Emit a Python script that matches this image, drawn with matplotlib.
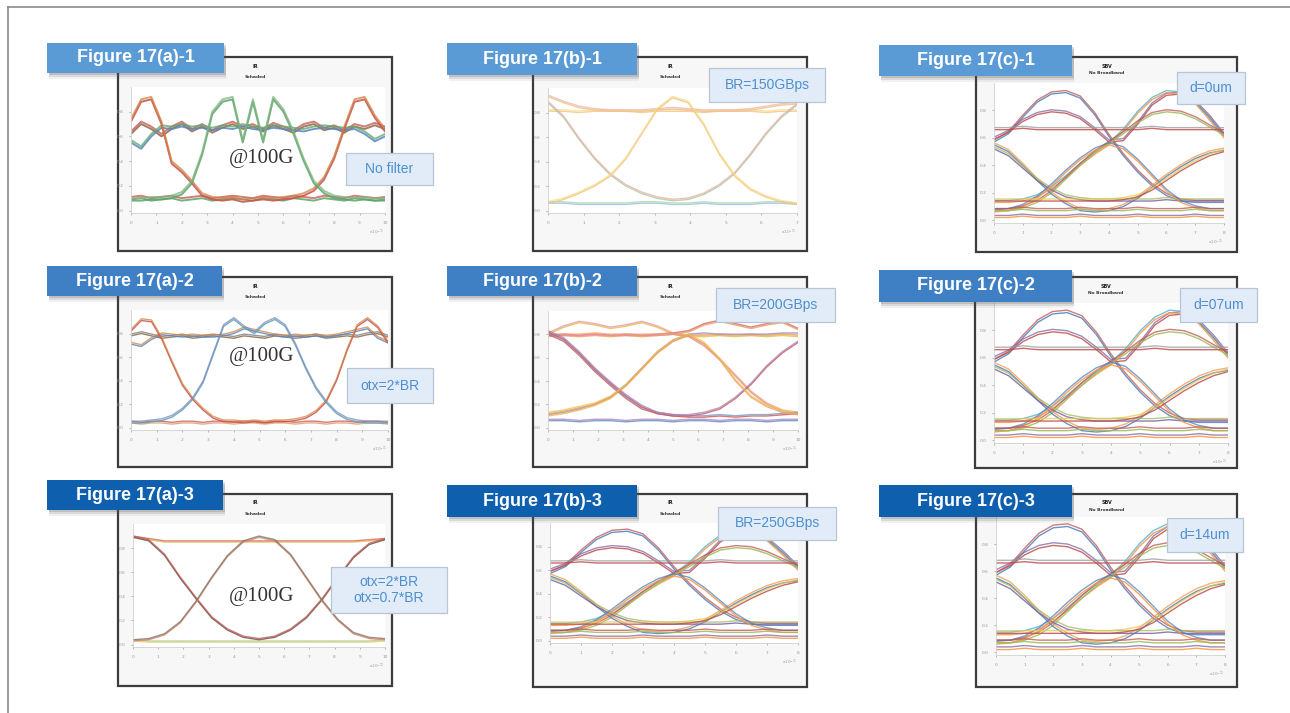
import numpy as np
import matplotlib
matplotlib.use("Agg")
import matplotlib.pyplot as plt
from matplotlib.patches import Rectangle

W, H = 1290, 713

# sample times of the eye traces
t26 = np.linspace(0, 10, 26)
t17a = np.linspace(0, 10, 17)
t17b1 = np.linspace(0, 7, 17)
t17p = np.linspace(0, 8, 17)

# ---- 17(a)-1 : no filter, 100G ----
a1_fall_rise = [0.72, 0.88, 0.90, 0.70, 0.38, 0.31, 0.22, 0.12, 0.09, 0.08, 0.09, 0.07, 0.08,
                0.09, 0.08, 0.09, 0.10, 0.12, 0.16, 0.25, 0.42, 0.66, 0.88, 0.90, 0.75, 0.64]
a1_rise_fall = [0.08, 0.08, 0.09, 0.09, 0.10, 0.13, 0.22, 0.45, 0.78, 0.88, 0.90, 0.55, 0.88,
                0.55, 0.90, 0.80, 0.62, 0.40, 0.22, 0.14, 0.10, 0.09, 0.08, 0.09, 0.08, 0.08]
a1_high = [0.62, 0.70, 0.66, 0.60, 0.66, 0.70, 0.64, 0.68, 0.63, 0.67, 0.70, 0.66, 0.68,
           0.64, 0.69, 0.66, 0.63, 0.68, 0.70, 0.65, 0.67, 0.63, 0.68, 0.66, 0.69, 0.66]
a1_high2 = [0.55, 0.50, 0.60, 0.67, 0.66, 0.68, 0.66, 0.67, 0.65, 0.67, 0.66, 0.68, 0.66,
            0.65, 0.67, 0.66, 0.65, 0.64, 0.66, 0.67, 0.66, 0.65, 0.66, 0.62, 0.56, 0.60]
a1_low = [0.09, 0.10, 0.08, 0.09, 0.10, 0.08, 0.09, 0.10, 0.08, 0.09, 0.10, 0.09, 0.08,
          0.10, 0.09, 0.08, 0.10, 0.09, 0.08, 0.10, 0.09, 0.08, 0.10, 0.09, 0.08, 0.09]

# ---- 17(a)-2 : otx = 2*BR ----
a2_fall_rise = [0.82, 0.91, 0.90, 0.75, 0.55, 0.36, 0.24, 0.15, 0.08, 0.05, 0.05, 0.04, 0.05,
                0.04, 0.05, 0.05, 0.06, 0.08, 0.13, 0.22, 0.40, 0.65, 0.86, 0.92, 0.85, 0.72]
a2_rise_fall = [0.04, 0.04, 0.05, 0.06, 0.09, 0.15, 0.24, 0.38, 0.62, 0.86, 0.92, 0.85, 0.80,
                0.88, 0.92, 0.86, 0.70, 0.50, 0.33, 0.21, 0.12, 0.07, 0.05, 0.04, 0.04, 0.04]
a2_high = [0.78, 0.80, 0.78, 0.76, 0.77, 0.78, 0.76, 0.77, 0.78, 0.77, 0.76, 0.78, 0.77,
           0.76, 0.78, 0.77, 0.76, 0.77, 0.78, 0.76, 0.77, 0.78, 0.77, 0.79, 0.80, 0.77]
a2_high2 = [0.71, 0.69, 0.75, 0.79, 0.78, 0.77, 0.78, 0.77, 0.77, 0.78, 0.80, 0.84, 0.82,
            0.80, 0.78, 0.77, 0.78, 0.77, 0.78, 0.77, 0.78, 0.80, 0.82, 0.84, 0.76, 0.72]
a2_low = [0.04, 0.03, 0.04, 0.04, 0.03, 0.04, 0.04, 0.03, 0.04, 0.04, 0.03, 0.04, 0.04,
          0.03, 0.04, 0.04, 0.03, 0.04, 0.04, 0.03, 0.04, 0.04, 0.03, 0.04, 0.04, 0.03]

# ---- 17(a)-3 : otx = 2*BR, orx = 0.7*BR ----
a3_u = [0.89, 0.86, 0.74, 0.55, 0.38, 0.22, 0.12, 0.06, 0.04, 0.06, 0.12, 0.22, 0.37, 0.55, 0.72, 0.83, 0.87]
a3_bell = [0.03, 0.04, 0.08, 0.18, 0.35, 0.55, 0.73, 0.85, 0.89, 0.86, 0.74, 0.55, 0.36, 0.20, 0.09, 0.05, 0.04]
a3_high = [0.89, 0.87, 0.85, 0.85, 0.85, 0.85, 0.85, 0.85, 0.85, 0.85, 0.85, 0.85, 0.85, 0.85, 0.85, 0.86, 0.87]
a3_low = [0.03, 0.02, 0.02, 0.02, 0.02, 0.02, 0.02, 0.02, 0.02, 0.02, 0.02, 0.02, 0.02, 0.02, 0.02, 0.02, 0.03]

# ---- 17(b)-1 : BR = 150GBps ----
b1_u = [0.88, 0.76, 0.58, 0.42, 0.29, 0.20, 0.14, 0.10, 0.08, 0.09, 0.13, 0.20, 0.30, 0.45, 0.62, 0.76, 0.86]
b1_bell = [0.06, 0.09, 0.14, 0.20, 0.28, 0.42, 0.62, 0.82, 0.92, 0.88, 0.70, 0.46, 0.28, 0.17, 0.11, 0.07, 0.05]
b1_top = [0.93, 0.88, 0.84, 0.82, 0.81, 0.81, 0.81, 0.82, 0.83, 0.82, 0.81, 0.81, 0.81, 0.82, 0.84, 0.86, 0.87]
b1_high = [0.81, 0.81, 0.80, 0.81, 0.81, 0.81, 0.80, 0.81, 0.81, 0.81, 0.80, 0.81, 0.81, 0.81, 0.80, 0.81, 0.81]
b1_low = [0.06, 0.06, 0.05, 0.05, 0.05, 0.05, 0.06, 0.06, 0.05, 0.05, 0.06, 0.05, 0.05, 0.05, 0.06, 0.06, 0.05]

# ---- 17(b)-2 : BR = 200GBps ----
b2_fall = [0.82, 0.76, 0.64, 0.50, 0.38, 0.27, 0.18, 0.12, 0.10, 0.10, 0.12, 0.16, 0.25, 0.37, 0.52, 0.64, 0.73]
b2_rise = [0.12, 0.14, 0.17, 0.20, 0.26, 0.36, 0.50, 0.64, 0.74, 0.79, 0.72, 0.58, 0.40, 0.26, 0.18, 0.13, 0.11]
b2_bump_l = [0.80, 0.86, 0.90, 0.88, 0.85, 0.87, 0.90, 0.86, 0.80, 0.78, 0.78, 0.79, 0.78, 0.79, 0.78, 0.79, 0.78]
b2_bump_r = [0.78, 0.79, 0.78, 0.79, 0.78, 0.79, 0.78, 0.79, 0.80, 0.82, 0.88, 0.91, 0.88, 0.85, 0.88, 0.90, 0.84]
b2_rise_hold = [0.10, 0.12, 0.15, 0.19, 0.25, 0.36, 0.50, 0.64, 0.74, 0.79, 0.80, 0.79, 0.79, 0.79, 0.79, 0.80, 0.80]
b2_hold_fall = [0.79, 0.79, 0.79, 0.80, 0.79, 0.79, 0.79, 0.79, 0.80, 0.78, 0.70, 0.58, 0.44, 0.30, 0.20, 0.14, 0.12]
b2_fall_hold = [0.80, 0.74, 0.62, 0.48, 0.36, 0.25, 0.16, 0.12, 0.10, 0.09, 0.09, 0.10, 0.09, 0.10, 0.10, 0.11, 0.12]
b2_low = [0.06, 0.06, 0.05, 0.06, 0.06, 0.05, 0.06, 0.06, 0.05, 0.06, 0.06, 0.05, 0.06, 0.06, 0.05, 0.06, 0.06]

# ---- 17(b)-3 and 17(c)-1..3 : multi-level eye ----
pam_hi_fall = [0.57, 0.63, 0.75, 0.86, 0.92, 0.93, 0.89, 0.77, 0.61, 0.47, 0.35, 0.25, 0.18, 0.14, 0.13, 0.13, 0.13]
pam_mid_hump = [0.59, 0.64, 0.72, 0.77, 0.79, 0.78, 0.74, 0.66, 0.57, 0.58, 0.70, 0.84, 0.91, 0.92, 0.86, 0.75, 0.62]
pam_low_rise = [0.13, 0.13, 0.14, 0.17, 0.23, 0.31, 0.40, 0.48, 0.55, 0.65, 0.78, 0.88, 0.93, 0.92, 0.85, 0.73, 0.60]
pam_rise_mid = [0.07, 0.07, 0.09, 0.13, 0.20, 0.30, 0.40, 0.49, 0.56, 0.63, 0.71, 0.77, 0.79, 0.78, 0.74, 0.68, 0.62]
pam_flat = [0.66, 0.66, 0.67, 0.66, 0.66, 0.66, 0.66, 0.66, 0.66, 0.66, 0.66, 0.67, 0.66, 0.66, 0.66, 0.66, 0.66]
pam_trough = [0.55, 0.50, 0.40, 0.29, 0.19, 0.12, 0.07, 0.06, 0.07, 0.10, 0.16, 0.24, 0.32, 0.39, 0.45, 0.49, 0.51]
pam_fall_low = [0.52, 0.47, 0.38, 0.29, 0.22, 0.17, 0.15, 0.14, 0.14, 0.14, 0.14, 0.14, 0.15, 0.14, 0.14, 0.14, 0.14]
pam_cross = [0.06, 0.07, 0.10, 0.16, 0.25, 0.35, 0.44, 0.51, 0.55, 0.52, 0.43, 0.32, 0.21, 0.13, 0.09, 0.07, 0.07]
pam_low_up = [0.14, 0.14, 0.14, 0.14, 0.14, 0.14, 0.14, 0.14, 0.14, 0.15, 0.17, 0.22, 0.29, 0.36, 0.42, 0.47, 0.50]
pam_l1 = [0.07, 0.07, 0.08, 0.07, 0.07, 0.07, 0.08, 0.07, 0.07, 0.07, 0.08, 0.07, 0.07, 0.07, 0.08, 0.07, 0.07]
pam_l0 = [0.02, 0.02, 0.03, 0.02, 0.02, 0.02, 0.03, 0.02, 0.02, 0.02, 0.03, 0.02, 0.02, 0.02, 0.03, 0.02, 0.02]

pam_traces = [pam_hi_fall, pam_mid_hump, pam_low_rise, pam_rise_mid, pam_flat, pam_trough,
              pam_fall_low, pam_cross, pam_low_up, pam_l1, pam_l0]

panel_titles = ["Figure 17(a)-1", "Figure 17(b)-1", "Figure 17(c)-1",
                "Figure 17(a)-2", "Figure 17(b)-2", "Figure 17(c)-2",
                "Figure 17(a)-3", "Figure 17(b)-3", "Figure 17(c)-3"]
notes = ["No filter", "BR=150GBps", "d=0um",
         "otx=2*BR", "BR=200GBps", "d=07um",
         "otx=2*BR\notx=0.7*BR", "BR=250GBps", "d=14um"]

# colours
RED, GRN, BLU, ORG, BRN = "#c8504a", "#5aa66a", "#5b86bd", "#d08040", "#8c6a4a"
pam_cols = [("#4f81bd", "#c0504d"), ("#c0504d", "#8064a2"), ("#f79646", "#4bacc6"),
            ("#9bbb59", "#c0504d"), ("#c0504d", "#9a9a9a"), ("#4f81bd", "#f79646"),
            ("#8064a2", "#9bbb59"), ("#f79646", "#4f81bd"), ("#c0504d", "#e6c84a"),
            ("#9bbb59", "#c0504d"), ("#f79646", "#8064a2")]

panels = [
    dict(t=t26, traces=[a1_high, a1_high2, a1_low, a1_fall_rise, a1_rise_fall],
         cols=[(BRN, RED), (BLU, GRN), (GRN, RED), (RED, ORG), (GRN, "#7fb37f")], lw=1.4, dy=0.02),
    dict(t=t17b1, traces=[b1_high, b1_top, b1_low, b1_u, b1_bell],
         cols=[("#f3c890", "#f6dc8a"), ("#f3c27f", "#ebb4b4"), ("#9cc3e6", "#a8d5a8"),
               ("#a8cfa8", "#f0a8a0"), ("#f3c27f", "#f6dc8a")], lw=1.0, dy=0.012),
    dict(t=t17p, traces=pam_traces, cols=pam_cols, lw=1.0, dy=0.015),
    dict(t=t26, traces=[a2_high, a2_high2, a2_low, a2_fall_rise, a2_rise_fall],
         cols=[(BRN, "#777777"), (BLU, ORG), ("#e0a070", RED), (RED, ORG), ("#5a9fb0", "#7a8ac0")],
         lw=1.0, dy=0.015),
    dict(t=t17a, traces=[b2_bump_l, b2_bump_r, b2_rise_hold, b2_hold_fall, b2_fall_hold,
                         b2_low, b2_fall, b2_rise],
         cols=[("#e8c050", "#e890a0"), ("#f0a060", "#d06060"), ("#e8c050", "#a080c0"),
               ("#e890a0", "#f0a060"), ("#d06060", "#7090c0"), ("#7090c0", "#a080c0"),
               ("#d06060", "#a080c0"), ("#f0a060", "#e8c050")], lw=1.0, dy=0.012),
    dict(t=t17p, traces=pam_traces, cols=pam_cols, lw=1.0, dy=0.018),
    dict(t=t17a, traces=[a3_high, a3_low, a3_u, a3_bell],
         cols=[("#e8c060", "#d06050"), ("#e8d070", "#a8c890"), ("#6b5a50", "#c0504d"),
               ("#d88a6a", "#7a6a60")], lw=1.0, dy=0.01),
    dict(t=t17p, traces=pam_traces, cols=pam_cols, lw=1.0, dy=0.018),
    dict(t=t17p, traces=pam_traces, cols=pam_cols, lw=1.0, dy=0.02),
]

# layout in pixels: (left, top, right, bottom)
frames = [(118, 57, 392, 251), (533, 57, 807, 251), (976, 57, 1237, 252),
          (118, 277, 392, 467), (533, 277, 807, 467), (975, 277, 1237, 468),
          (118, 494, 392, 686), (533, 494, 807, 687), (976, 494, 1237, 687)]
axboxes = [(131, 87, 385, 213), (548, 88, 797, 213), (994, 83, 1224, 223),
           (131, 310, 388, 430), (548, 311, 798, 430), (994, 303, 1228, 443),
           (133, 524, 385, 647), (550, 523, 798, 643), (996, 517, 1225, 655)]
tags = [(47, 43, 224, 73), (447, 43, 637, 75), (879, 45, 1072, 76),
        (47, 266, 222, 296), (447, 266, 637, 296), (879, 270, 1072, 302),
        (47, 480, 223, 510), (447, 485, 637, 517), (879, 485, 1072, 517)]
note_boxes = [(346, 153, 433, 185), (709, 68, 825, 102), (1177, 72, 1245, 104),
              (347, 368, 433, 403), (716, 288, 835, 322), (1180, 288, 1257, 322),
              (331, 567, 447, 613), (718, 507, 836, 540), (1167, 518, 1243, 552)]
tag_colors = ["#5b9bd5"] * 3 + ["#3f80c4"] * 3 + ["#0e5fad"] * 3
head_text = [("IR", "Schaded")] * 2 + [("SBV", "No Broadband")]
head_text = head_text * 3
speed_pos = [(262, 158), None, None, (262, 357), None, None, (262, 597), None, None]


def fig_rect(l, t, r, b):
    return [l / W, 1 - b / H, (r - l) / W, (b - t) / H]


fig = plt.figure(figsize=(W / 100, H / 100), dpi=100)
fig.patch.set_facecolor("white")

bg = fig.add_axes([0, 0, 1, 1])
bg.set_xlim(0, W)
bg.set_ylim(H, 0)
bg.axis("off")

# page border
bg.plot([8, W], [7, 7], color="#8a8a8a", lw=1.2)
bg.plot([8, 8], [7, H], color="#8a8a8a", lw=1.2)

for i, (l, t, r, b) in enumerate(frames):
    bg.add_patch(Rectangle((l, t), r - l, b - t, facecolor="#f7f7f7",
                           edgecolor="#3c3c3c", lw=1.6))
    cx = (l + r) / 2
    l1, l2 = head_text[i]
    bg.text(cx, t + 9, l1, ha="center", va="center", fontsize=3.5,
            fontweight="bold", color="#222222")
    bg.text(cx, t + (20 if i % 3 != 2 else 16), l2, ha="center", va="center",
            fontsize=3.2, fontweight="bold", color="#333333")

for i, p in enumerate(panels):
    ax = fig.add_axes(fig_rect(*axboxes[i]))
    ax.set_facecolor("white")
    t = p["t"]
    for tr, (c1, c2) in zip(p["traces"], p["cols"]):
        y = np.asarray(tr)
        ax.plot(t, y, color=c1, lw=p["lw"], alpha=0.85, solid_capstyle="round")
        ax.plot(t, y + p["dy"], color=c2, lw=p["lw"], alpha=0.75, solid_capstyle="round")
    ax.set_xlim(t[0], t[-1])
    ax.set_ylim(-0.02, 1.0)
    ax.set_xticks(np.arange(t[0], t[-1] + 0.01, 1))
    ax.set_yticks([0, 0.2, 0.4, 0.6, 0.8])
    ax.tick_params(labelsize=3.2, colors="#9a9a9a", length=1.5, width=0.5, pad=4)
    for s in ["top", "right"]:
        ax.spines[s].set_visible(False)
    for s in ["left", "bottom"]:
        ax.spines[s].set_color("#d0d0d0")
        ax.spines[s].set_linewidth(0.6)
    l, tp, r, b = axboxes[i]
    bg.text(r - 8, b + 19, "x10$^{-11}$", fontsize=3, color="#999999",
            ha="center", va="center")

ov = fig.add_axes([0, 0, 1, 1])
ov.set_xlim(0, W)
ov.set_ylim(H, 0)
ov.axis("off")
ov.patch.set_alpha(0)

for pos in speed_pos:
    if pos is not None:
        ov.text(pos[0], pos[1], "@100G", fontsize=15, family="Liberation Serif",
                color="#333333", ha="center", va="center")

for (l, t, r, b), txt in zip(note_boxes, notes):
    ov.add_patch(Rectangle((l, t), r - l, b - t, facecolor="#e2ecf8",
                           edgecolor="#b7c5d4", lw=0.9))
    ov.text((l + r) / 2, (t + b) / 2, txt, fontsize=10, family="Liberation Sans",
            color="#4d8fd0", ha="center", va="center", linespacing=1.1)

for (l, t, r, b), txt, col in zip(tags, panel_titles, tag_colors):
    for k, a in [(6, 0.08), (4, 0.14), (2, 0.2)]:
        ov.add_patch(Rectangle((l + 2, t + k), r - l, b - t, facecolor="#555555",
                               edgecolor="none", alpha=a))
    ov.add_patch(Rectangle((l, t), r - l, b - t, facecolor=col, edgecolor="none"))
    ov.text((l + r) / 2, (t + b) / 2, txt, fontsize=13, family="Liberation Sans",
            fontweight="bold", color="white", ha="center", va="center")

fig.savefig("out.png", dpi=100, facecolor="white")
